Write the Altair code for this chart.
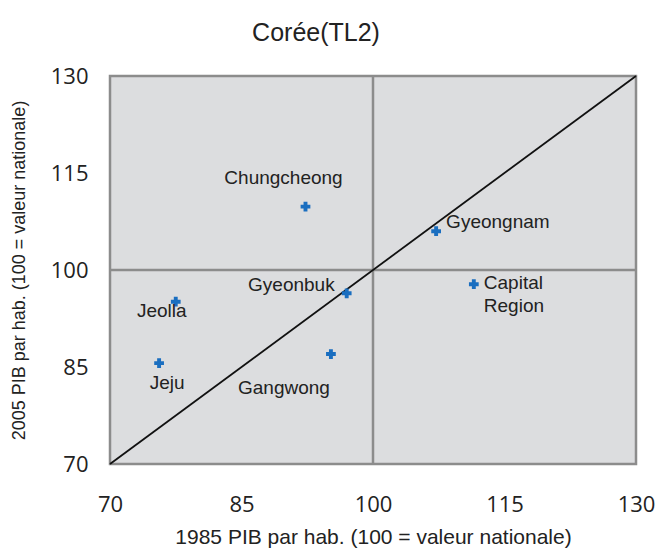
import altair as alt
import pandas as pd

regions = ["Chungcheong", "Gyeongnam", "Capital Region", "Gyeonbuk", "Jeolla", "Jeju", "Gangwong"]
gdp_1985 = [92.3, 107.2, 111.5, 97.0, 77.5, 75.6, 95.2]
gdp_2005 = [109.8, 106.0, 97.8, 96.4, 95.1, 85.6, 87.0]
axis_ticks = [70, 85, 100, 115, 130]

df = pd.DataFrame({"region": regions, "x": gdp_1985, "y": gdp_2005})

# label placement: (dx, dy, align)
label_style = {
    "Chungcheong": (-22, -29, "center"),
    "Gyeongnam": (10, -9, "left"),
    "Capital Region": (10, 0, "left"),
    "Gyeonbuk": (-12, -8, "right"),
    "Jeolla": (-14, 9, "center"),
    "Jeju": (8, 20, "center"),
    "Gangwong": (-47, 34, "center"),
}

FONT = "Liberation Sans"
TICKFONT = "Open Sans"
xs = alt.Scale(domain=[70, 130], nice=False, zero=False)
ys = alt.Scale(domain=[70, 130], nice=False, zero=False)

xenc = alt.X("x:Q", scale=xs, axis=alt.Axis(
    values=axis_ticks, title="1985 PIB par hab. (100 = valeur nationale)",
    grid=False, ticks=False, domain=False, labelFontSize=22, labelColor="#222",
    labelPadding=30, labelFlush=False, titleFontSize=21, titleFontWeight="normal",
    titleColor="#222", titlePadding=11, labelFont=TICKFONT, titleFont=FONT))
yenc = alt.Y("y:Q", scale=ys, axis=alt.Axis(
    values=axis_ticks, title="2005 PIB par hab. (100 = valeur nationale)",
    grid=False, ticks=False, domain=False, labelFontSize=22, labelColor="#222",
    labelPadding=22, labelFlush=False, titleFontSize=18, titleFontWeight="normal",
    titleColor="#222", titlePadding=22, labelFont=TICKFONT, titleFont=FONT))

ref = pd.DataFrame({"v": [100]})
vline = alt.Chart(ref).mark_rule(color="#8c8c8c", strokeWidth=2.5).encode(x=alt.X("v:Q", scale=xs))
hline = alt.Chart(ref).mark_rule(color="#8c8c8c", strokeWidth=2.5).encode(y=alt.Y("v:Q", scale=ys))

diag_df = pd.DataFrame({"x": [70, 130], "y": [70, 130]})
diag = alt.Chart(diag_df).mark_line(color="#111", strokeWidth=1.8).encode(
    x=alt.X("x:Q", scale=xs), y=alt.Y("y:Q", scale=ys))

points = alt.Chart(df).mark_point(shape="cross", filled=True, size=95, color="#1a6ec0",
                                  opacity=1).encode(x=xenc, y=yenc)

texts = []
for r in regions:
    dx, dy, al = label_style[r]
    sub = df[df.region == r]
    if r == "Capital Region":
        t = alt.Chart(sub).mark_text(
            dx=dx, dy=-10, align=al, baseline="top", fontSize=19, font=FONT,
            color="#222", lineHeight=23
        ).encode(x=alt.X("x:Q", scale=xs), y=alt.Y("y:Q", scale=ys),
                 text=alt.value(["Capital", "Region"]))
    else:
        t = alt.Chart(sub).mark_text(
            dx=dx, dy=dy, align=al, baseline="middle", fontSize=19, font=FONT, color="#222"
        ).encode(x=alt.X("x:Q", scale=xs), y=alt.Y("y:Q", scale=ys), text="region:N")
    texts.append(t)

chart = alt.layer(vline, hline, diag, points, *texts).properties(
    width=526, height=388,
    title=alt.TitleParams("Corée(TL2)", fontSize=25, font=FONT, fontWeight="normal",
                          color="#222", anchor="middle", dx=-57, offset=19),
    autosize=alt.AutoSizeParams(type="none"),
    padding={"left": 102, "top": 68, "right": 20, "bottom": 86},
).configure_view(fill="#dcdddf", stroke="#8c8c8c", strokeWidth=2.5)

chart.save("out.html", embed_options={"renderer": "svg", "actions": False})
